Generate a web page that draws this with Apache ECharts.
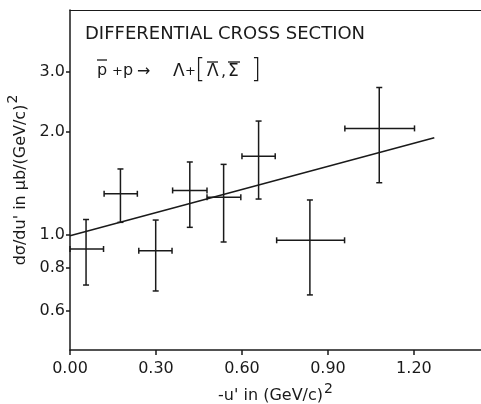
<!DOCTYPE html>
<html><head><meta charset="utf-8">
<script src="https://cdn.jsdelivr.net/npm/echarts@6/dist/echarts.min.js"></script>
<style>html,body{margin:0;padding:0;background:#fff}#c{width:481px;height:404px}</style>
</head><body><div id="c"></div>
<script>
// data
var xs   = [0.056, 0.176, 0.299, 0.418, 0.536, 0.658, 0.837, 1.079];
var xLo  = [0.000, 0.119, 0.240, 0.358, 0.478, 0.600, 0.721, 0.959];
var xHi  = [0.117, 0.235, 0.356, 0.478, 0.596, 0.716, 0.958, 1.202];
var ys   = [0.91, 1.32, 0.90, 1.35, 1.29, 1.70, 0.965, 2.05];
var yLo  = [0.714, 1.089, 0.686, 1.053, 0.954, 1.274, 0.668, 1.422];
var yHi  = [1.11, 1.56, 1.106, 1.635, 1.609, 2.154, 1.266, 2.70];
var fitX = [0.0, 1.271];
var fitY = [0.995, 1.925];
var xTicks = [0, 0.3, 0.6, 0.9, 1.2];
var yTicks = [0.6, 0.8, 1.0, 2.0, 3.0];

var font = 'DejaVu Sans';
var ink = '#1a1a1a';
var chart = echarts.init(document.getElementById('c'));
var errData = xs.map(function(x,i){return [x, ys[i], xLo[i], xHi[i], yLo[i], yHi[i]];});
var supRich = {
  t: {fontFamily: font, fontSize: 16, color: ink, verticalAlign: 'bottom'},
  s: {fontFamily: font, fontSize: 14, color: ink, verticalAlign: 'bottom', padding: [0,0,8,1]}
};
function txt(s, x, y, size, weight){
  return {type:'text', x:x, y:y, style:{text:s, fontFamily:font, fontSize:size||16, fontWeight: weight||'normal', fill:ink, verticalAlign:'middle'}};
}
function bar(x1, x2, y){
  return {type:'line', shape:{x1:x1,y1:y,x2:x2,y2:y}, style:{stroke:ink, lineWidth:1.3}};
}
chart.setOption({
  backgroundColor: '#fff',
  animation: false,
  grid: {left: 70, top: 10, right: 0, bottom: 54, containLabel: false, outerBoundsMode: 'none'},
  xAxis: [{
    type: 'value', min: 0, max: 1.434, position: 'bottom',
    splitLine: {show: false},
    axisLine: {lineStyle: {color: ink, width: 1.5}},
    axisTick: {customValues: xTicks, length: 5, lineStyle: {color: ink, width: 1.5}},
    axisLabel: {customValues: xTicks, formatter: function(v){return v.toFixed(2);}, margin: 11,
      fontFamily: font, fontSize: 16, color: ink},
    name: "{t|-u' in (GeV/c)}{s|2}", nameLocation: 'middle', nameGap: 30,
    nameTextStyle: {fontFamily: font, fontSize: 16, color: ink, rich: supRich}
  }, {
    type: 'value', min: 0, max: 1.434, position: 'top',
    splitLine: {show: false}, axisTick: {show: false}, axisLabel: {show: false},
    axisLine: {lineStyle: {color: ink, width: 1.2}}
  }],
  yAxis: {
    type: 'log', logBase: 10, min: 0.461, max: 4.55,
    splitLine: {show: false}, minorTick: {show: false},
    axisLine: {show: true, lineStyle: {color: ink, width: 1.5}},
    axisTick: {customValues: yTicks, length: 4, lineStyle: {color: ink, width: 1.5}},
    axisLabel: {customValues: yTicks, formatter: function(v){return (+v).toFixed(1);}, margin: 5,
      fontFamily: font, fontSize: 16, color: ink},
    name: "{t|d\u03C3/du' in \u03BCb/(GeV/c)}{s|2}", nameLocation: 'middle', nameGap: 28,
    nameTextStyle: {fontFamily: font, fontSize: 16, color: ink, rich: supRich}
  },
  series: [{
    type: 'custom',
    data: errData,
    renderItem: function(params, api){
      var c = api.coord([api.value(0), api.value(1)]);
      var l = api.coord([api.value(2), api.value(1)]);
      var r = api.coord([api.value(3), api.value(1)]);
      var lo = api.coord([api.value(0), api.value(4)]);
      var hi = api.coord([api.value(0), api.value(5)]);
      var cap = 3;
      var st = {stroke: ink, lineWidth: 1.5};
      function ln(x1,y1,x2,y2){return {type:'line', shape:{x1:x1,y1:y1,x2:x2,y2:y2}, style: st};}
      return {type: 'group', children: [
        ln(l[0], c[1], r[0], c[1]),
        ln(l[0], c[1]-cap, l[0], c[1]+cap),
        ln(r[0], c[1]-cap, r[0], c[1]+cap),
        ln(c[0], lo[1], c[0], hi[1]),
        ln(c[0]-cap, lo[1], c[0]+cap, lo[1]),
        ln(c[0]-cap, hi[1], c[0]+cap, hi[1])
      ]};
    }
  }, {
    type: 'line', symbol: 'none',
    data: fitX.map(function(x,i){return [x, fitY[i]];}),
    lineStyle: {color: ink, width: 1.5}
  }],
  graphic: [
    txt('DIFFERENTIAL CROSS SECTION', 85, 34, 18),
    txt('p', 97, 71), bar(97, 107, 60),
    txt('+', 112, 72, 13),
    txt('p', 123, 71),
    txt('\u2192', 137, 72),
    txt('\u039B', 173, 72, 17),
    txt('+', 185, 72, 13),
    txt('[', 195, 70, 26, 200),
    txt('\u039B', 207, 72, 17), bar(207, 218, 62),
    txt(',', 221, 72),
    txt('\u03A3', 228, 72, 17), bar(228, 240, 62),
    txt(']', 251, 70, 26, 200)
  ]
});
</script></body></html>
